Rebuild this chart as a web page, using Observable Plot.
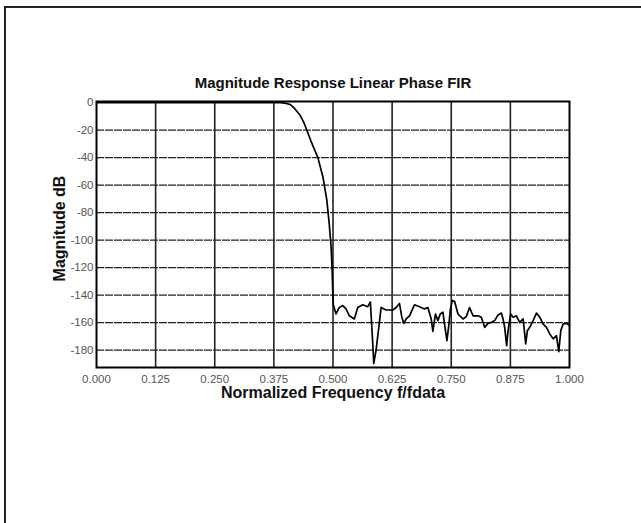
<!DOCTYPE html>
<html>
<head>
<meta charset="utf-8">
<script src="https://cdn.jsdelivr.net/npm/d3@7"></script>
<script src="https://cdn.jsdelivr.net/npm/@observablehq/plot@0.6"></script>
<style>
  html, body { margin: 0; padding: 0; background: #fff; overflow: hidden; }
  #wrap { position: relative; width: 641px; height: 523px; }
  #border { position: absolute; left: 4px; top: 6px; width: 700px; height: 600px;
            border-left: 2px solid #222; border-top: 2px solid #222; pointer-events: none; }
  #chart { position: absolute; left: 0; top: 0; }
</style>
</head>
<body>
<div id="wrap"><div id="chart"></div><div id="border"></div></div>
<script>
const titleText = "Magnitude Response Linear Phase FIR";
const xLabel = "Normalized Frequency f/fdata";
const yLabel = "Magnitude dB";
const xTicks = [0, 0.125, 0.25, 0.375, 0.5, 0.625, 0.75, 0.875, 1.0];
const yTicks = [0, -20, -40, -60, -80, -100, -120, -140, -160, -180];

const freq = [
  0, 0.39, 0.40, 0.41, 0.417, 0.43, 0.439, 0.453, 0.468, 0.479, 0.487, 0.492, 0.496, 0.498, 0.4995, 0.5006,
  0.5064, 0.5133, 0.5206, 0.5275, 0.5345, 0.5451, 0.5523, 0.5629, 0.5735, 0.579, 0.5841, 0.5862, 0.5911,
  0.5981, 0.6017, 0.6123, 0.6265, 0.6335, 0.6405, 0.6455, 0.6498, 0.6547, 0.6617, 0.6722, 0.6828, 0.6934,
  0.7006, 0.7076, 0.7112, 0.7167, 0.7218, 0.7267, 0.7324, 0.7358, 0.7409, 0.7451, 0.7479, 0.7521, 0.757,
  0.7642, 0.7748, 0.7818, 0.7888, 0.796, 0.8066, 0.8136, 0.8206, 0.8278, 0.8347, 0.8417, 0.8489, 0.8559,
  0.8595, 0.8629, 0.8672, 0.8701, 0.8756, 0.8807, 0.8877, 0.8947, 0.9019, 0.9053, 0.9074, 0.911, 0.9159,
  0.9231, 0.9301, 0.9371, 0.9443, 0.9513, 0.9583, 0.9655, 0.9725, 0.9773, 0.9816, 0.9866, 0.9936, 1.0
];
const magDb = [
  0, 0, -0.5, -1.5, -3.6, -9, -15, -27.6, -40, -54.5, -71, -88, -105, -120, -137, -147,
  -153.7, -148.9, -147.6, -150, -155, -157.3, -149, -147, -148.4, -145, -175.5, -189.6, -180,
  -159.8, -148.9, -150.8, -150.8, -149, -146, -156, -160.5, -157.3, -155, -147, -148.4, -150,
  -149, -157.3, -166.3, -153.7, -158.5, -153.7, -152.4, -161, -173, -161, -151, -144, -144.5,
  -153.7, -157.3, -155.6, -149, -155, -155, -156, -163.4, -160.5, -159.8, -158.5, -154.4, -153,
  -157.3, -163.4, -176.7, -165.8, -153.7, -156, -155, -159.8, -157.3, -168.2, -175.5, -165.8, -163.4,
  -158.5, -153, -156, -161, -163.4, -168.2, -171.8, -169.5, -181, -165.8, -161, -160.5, -162
];

const data = freq.map((f, i) => ({f, db: magDb[i]}));
const font = "Liberation Sans, Arial, Helvetica, sans-serif";

const plot = Plot.plot({
  width: 641,
  height: 523,
  marginLeft: 96,
  marginRight: 72,
  marginTop: 101,
  marginBottom: 156,
  style: {background: "transparent", fontFamily: font, fontSize: "11.5px", color: "#555"},
  x: {domain: [0, 1], ticks: xTicks, tickFormat: d3.format(".3f"), tickSize: 0, tickPadding: 7, label: null},
  y: {domain: [-192.6, 0.8], ticks: yTicks, tickFormat: d => String(d), tickSize: 0, tickPadding: 3, label: null},
  marks: [
    Plot.gridX(xTicks.slice(1, -1), {stroke: "#222", strokeOpacity: 1, strokeWidth: 1.6}),
    Plot.gridY(yTicks.slice(1), {stroke: "#222", strokeOpacity: 1, strokeWidth: 1.4, strokeDasharray: "8,1"}),
    Plot.line(data, {x: "f", y: "db", stroke: "#000", strokeWidth: 1.7}),
    Plot.frame({stroke: "#000", strokeWidth: 2}),
    Plot.text([titleText], {frameAnchor: "top", lineAnchor: "middle", dy: -18, text: d => d, fontSize: 15, fontWeight: "bold", fill: "#111", fontFamily: font}),
    Plot.text([xLabel], {frameAnchor: "bottom", lineAnchor: "middle", dy: 25, text: d => d, fontSize: 16, fontWeight: "bold", fill: "#111", fontFamily: font}),
    Plot.text([yLabel], {frameAnchor: "left", textAnchor: "middle", lineAnchor: "middle", dx: -37, dy: -6, rotate: -90, text: d => d, fontSize: 16, fontWeight: "bold", fill: "#111", fontFamily: font})
  ]
});
document.getElementById("chart").appendChild(plot);
</script>
</body>
</html>
